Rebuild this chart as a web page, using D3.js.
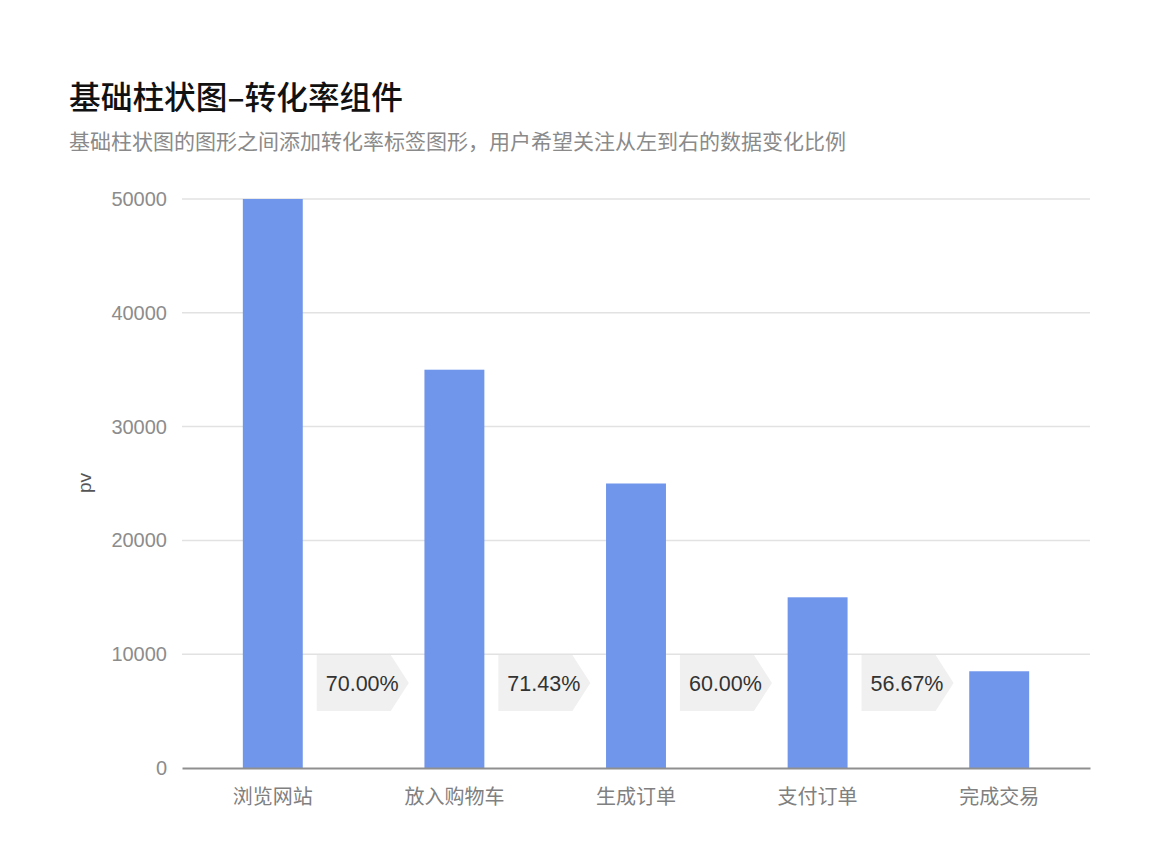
<!DOCTYPE html>
<html>
<head>
<meta charset="utf-8">
<script src="https://cdn.jsdelivr.net/npm/d3@7"></script>
<style>
  html, body { margin: 0; padding: 0; background: #fff; }
  svg { display: block; font-family: "Liberation Sans", Arial, "Noto Sans CJK SC", sans-serif; }
</style>
</head>
<body>
<svg id="chart" width="1162" height="850"></svg>
<script>
const categories = ["浏览网站", "放入购物车", "生成订单", "支付订单", "完成交易"];
const pvValues = [50000, 35000, 25000, 15000, 8500];
const yTicks = [0, 10000, 20000, 30000, 40000, 50000];
const titleText = "基础柱状图–转化率组件";
const subtitleText = "基础柱状图的图形之间添加转化率标签图形，用户希望关注从左到右的数据变化比例";
const yAxisLabel = "pv";

const svg = d3.select("#chart");
const margin = { left: 182, right: 1090, top: 199, bottom: 768 };
const cjk = '"Noto Sans CJK SC", sans-serif';

// Title & subtitle
svg.append("text").attr("x", 69).attr("y", 109)
  .attr("font-family", cjk).attr("font-size", 31.7).attr("font-weight", 500)
  .attr("fill", "#111").text(titleText);
svg.append("text").attr("x", 69).attr("y", 149)
  .attr("font-family", cjk).attr("font-size", 21)
  .attr("fill", "#8a8a8a").text(subtitleText);

const x = d3.scaleBand().domain(categories).range([margin.left, margin.right]).padding(0);
const y = d3.scaleLinear().domain([0, 50000]).range([margin.bottom, margin.top]);
const barW = x.bandwidth() * 0.33;

// Grid lines
svg.append("g").selectAll("line").data(yTicks.filter(d => d > 0)).join("line")
  .attr("x1", margin.left).attr("x2", margin.right)
  .attr("y1", d => y(d)).attr("y2", d => y(d))
  .attr("stroke", "#e2e2e2").attr("stroke-width", 1.5);

// Y tick labels
const yAxis = d3.axisLeft(y).tickValues(yTicks).tickSize(0).tickPadding(15).tickFormat(d3.format("d"));
const yG = svg.append("g").attr("transform", `translate(${margin.left},0)`).call(yAxis);
yG.select(".domain").remove();
yG.selectAll("text").attr("font-size", 20).attr("fill", "#8c8c8c")
  .attr("font-family", '"Liberation Sans", Arial, sans-serif');

// Y axis label
svg.append("text").attr("transform", "translate(91,483) rotate(-90)")
  .attr("text-anchor", "middle").attr("font-size", 19).attr("fill", "#555")
  .text(yAxisLabel);

// Bars
svg.append("g").selectAll("rect").data(pvValues).join("rect")
  .attr("x", (d, i) => x(categories[i]) + (x.bandwidth() - barW) / 2)
  .attr("y", d => y(d))
  .attr("width", barW)
  .attr("height", d => y(0) - y(d))
  .attr("fill", "#7096eb");

// X axis
const xAxis = d3.axisBottom(x).tickSize(0).tickPadding(15);
const xG = svg.append("g").attr("transform", `translate(0,${margin.bottom})`).call(xAxis);
xG.select(".domain").attr("stroke", "#8f8f8f").attr("stroke-width", 2);
xG.selectAll("text").attr("font-size", 20).attr("fill", "#808080")
  .attr("font-family", cjk).attr("dy", "1.05em");

// Conversion rate arrows
const rates = pvValues.slice(1).map((v, i) => v / pvValues[i]);
const arrowH = 56, rectW = 74, tipW = 18;
const arrowG = svg.append("g").selectAll("g").data(rates).join("g")
  .attr("transform", (d, i) => {
    const left = x(categories[i]) + (x.bandwidth() + barW) / 2 + 14;
    return `translate(${left},${margin.bottom - 85})`;
  });
arrowG.append("path")
  .attr("d", `M0,${-arrowH/2} L${rectW},${-arrowH/2} L${rectW+tipW},0 L${rectW},${arrowH/2} L0,${arrowH/2} Z`)
  .attr("fill", "#f0f0f0");
arrowG.append("text").attr("x", 9).attr("y", 8)
  .attr("font-size", 21.5).attr("fill", "#333")
  .text(d => (d * 100).toFixed(2) + "%");
</script>
</body>
</html>
